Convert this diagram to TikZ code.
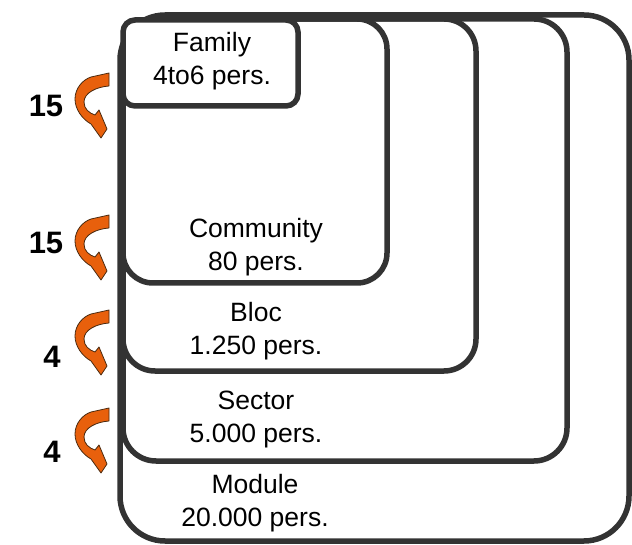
\documentclass[tikz,border=0pt]{standalone}
\usepackage{fontspec}
\setmainfont{Liberation Sans}
\definecolor{boxgray}{HTML}{333333}
\definecolor{arrowfill}{HTML}{E8600C}
\definecolor{arrowline}{HTML}{4A2A10}
\begin{document}
\begin{tikzpicture}[x=1pt,y=-1pt,
  box/.style={draw=boxgray,line width=5.5pt,rounded corners=#1},
  lbl/.style={align=center,font=\fontsize{26.5}{33}\selectfont,text=black,inner sep=0pt},
  num/.style={font=\fontsize{31}{31}\selectfont\bfseries,text=black,inner sep=0pt},
  curvarrow/.pic={
    \filldraw[fill=arrowfill,draw=arrowline,line width=0.8pt,line join=round]
      (-13,8) -- (5,4) -- (5,17)
      .. controls (-8,18) and (-20,24) .. (-20,33)
      .. controls (-20,40) and (-15,44) .. (-9,46)
      -- (-5,41) -- (3,60) -- (-3,69) -- (-13,55)
      .. controls (-22,50) and (-29,40) .. (-29,30)
      .. controls (-29,20) and (-22,11) .. (-13,8) -- cycle;
  }]
\useasboundingbox (0,0) rectangle (632,545);
% nested boxes
\draw[box=45pt] (120,15) rectangle (629,541);
\draw[box=33pt] (123,19) rectangle (567,461);
\draw[box=32pt] (123,19) rectangle (476,371);
\draw[box=30pt] (123,19) rectangle (387,283);
\draw[box=12pt,fill=white] (123,20) rectangle (298,106);
% labels
\node[lbl] (family) at (212,61) {Family\\4to6 pers.};
\node[lbl] (community) at (256,247) {Community\\80 pers.};
\node[lbl] (bloc) at (256,331) {Bloc\\1.250 pers.};
\node[lbl] (sector) at (256,419) {Sector\\5.000 pers.};
\node[lbl] (module) at (255,503) {Module\\20.000 pers.};
% factors
\node[num] (f1) at (46,106) {15};
\node[num] (f2) at (46,243) {15};
\node[num] (f3) at (52,357) {4};
\node[num] (f4) at (52,452) {4};
% arrows
\pic at (104,69) {curvarrow};
\pic at (104,211) {curvarrow};
\pic at (104,306) {curvarrow};
\pic at (104,404) {curvarrow};
\end{tikzpicture}
\end{document}
